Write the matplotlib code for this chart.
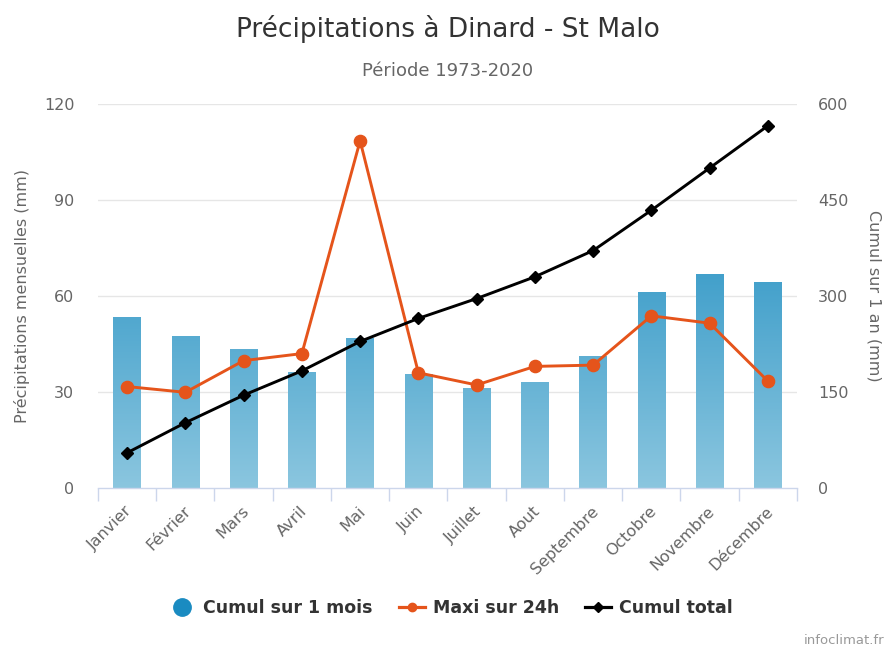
import matplotlib
matplotlib.use("Agg")
import matplotlib.pyplot as plt
import numpy as np
from matplotlib.lines import Line2D
from matplotlib.colors import LinearSegmentedColormap

months = ["Janvier", "Février", "Mars", "Avril", "Mai", "Juin", "Juillet",
          "Aout", "Septembre", "Octobre", "Novembre", "Décembre"]
cumul_mois = [53.5, 47.6, 43.5, 36.3, 46.9, 35.5, 31.3, 33.1, 41.2, 61.2, 67.0, 64.3]
maxi_24h = [31.7, 29.9, 39.8, 42.0, 108.5, 36.0, 32.2, 38.0, 38.4, 53.8, 51.5, 33.4]
cumul_total = [55, 102, 145, 183, 229, 265, 296, 330, 371, 434, 500, 566]
left_ticks = [0, 30, 60, 90, 120]
right_ticks = [0, 150, 300, 450, 600]

plt.rcParams["font.family"] = ["DejaVu Sans"]

W, H = 887, 647
fig = plt.figure(figsize=(W / 100, H / 100), dpi=100)
fig.patch.set_facecolor("white")

x0, x1, ytop, ybot = 98, 797, 104, 488
ax = fig.add_axes([x0 / W, 1 - ybot / H, (x1 - x0) / W, (ybot - ytop) / H])
ax2 = ax.twinx()

x = np.arange(len(months))

# gridlines
for v in left_ticks[1:]:
    ax.axhline(v, color="#e6e6e6", lw=1, zorder=0)

# bars with vertical gradient
bars = ax.bar(x, cumul_mois, width=0.47, color="#5aaed3", zorder=2, linewidth=0)
grad = np.linspace(0, 1, 256).reshape(-1, 1)
cmap = LinearSegmentedColormap.from_list("g", ["#8bc6df", "#42a0cb"])
top = max(cumul_mois)
for b in bars:
    im = ax.imshow(grad, cmap=cmap, aspect="auto", origin="lower",
                   extent=[b.get_x(), b.get_x() + b.get_width(), 0, top],
                   zorder=2.1, interpolation="bilinear")
    im.set_clip_path(b)
ax.set_xlim(-0.5, len(months) - 0.5)
ax.set_ylim(0, 120)
ax2.set_ylim(0, 600)

ax.plot(x, maxi_24h, color="#e5541b", lw=2.1, marker="o", ms=8.8, zorder=4)
ax2.plot(x, cumul_total, color="black", lw=2.1, marker="D", ms=6.5, zorder=5)
ax2.set_zorder(ax.get_zorder() + 1)
ax2.patch.set_visible(False)

# spines
for a in (ax, ax2):
    for s in a.spines.values():
        s.set_visible(False)
ax.spines["bottom"].set_visible(True)
ax.spines["bottom"].set_color("#ccd6eb")
ax.spines["bottom"].set_linewidth(1)

# ticks
ax.set_yticks(left_ticks)
ax.set_yticklabels([str(v) for v in left_ticks])
ax.tick_params(axis="y", length=0, pad=17, labelsize=11.5, labelcolor="#666666")
ax2.set_yticks(right_ticks)
ax2.set_yticklabels([str(v) for v in right_ticks])
ax2.tick_params(axis="y", length=0, pad=15, labelsize=11.5, labelcolor="#666666")

ax.set_xticks(np.arange(len(months) + 1) - 0.5, minor=False)
ax.set_xticklabels([])
ax.tick_params(axis="x", length=9.5, width=1, color="#ccd6eb", direction="out")
for i, m in enumerate(months):
    ax.annotate(m, xy=(i, 0), xycoords=("data", "axes fraction"),
                xytext=(2, -15), textcoords="offset points",
                rotation=45, rotation_mode="anchor", ha="right", va="center",
                fontsize=11.5, color="#666666")

ax.set_ylabel("Précipitations mensuelles (mm)", fontsize=11.5, color="#666666", labelpad=10)
ax2.set_ylabel("Cumul sur 1 an (mm)", fontsize=11.5, color="#666666", rotation=270, labelpad=24)

fig.text(448 / W, 1 - 37 / H, "Précipitations à Dinard - St Malo", ha="center", va="baseline",
         fontsize=19, color="#333333")
fig.text(448 / W, 1 - 76 / H, "Période 1973-2020", ha="center", va="baseline",
         fontsize=13, color="#666666")

handles = [
    Line2D([], [], ls="none", marker="o", ms=12.5, color="#1a8bc1"),
    Line2D([], [], color="#e5541b", lw=2.3, marker="o", ms=6),
    Line2D([], [], color="black", lw=2.3, marker="D", ms=5),
]
labels = ["Cumul sur 1 mois", "Maxi sur 24h", "Cumul total"]
fig.legend(handles, labels, loc="center", bbox_to_anchor=(451 / W, 1 - 608 / H), ncol=3,
           frameon=False, prop={"weight": "bold", "size": 12.5}, labelcolor="#333333",
           handlelength=1.5, columnspacing=1.5, handletextpad=0.45)

fig.text(884 / W, 1 - 640 / H, "infoclimat.fr", ha="right", va="center", fontsize=9.5,
         color="#999999")

fig.savefig("out.png", dpi=100, facecolor="white")
